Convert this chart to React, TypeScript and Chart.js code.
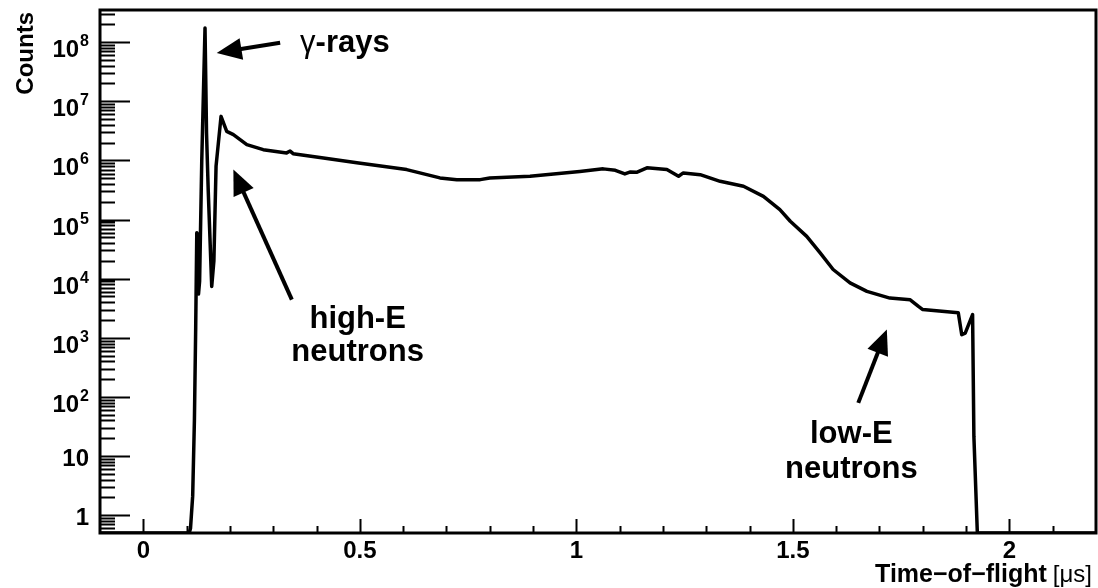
import React, { useEffect, useRef } from "react";
import { Chart, registerables } from "chart.js";

Chart.register(...registerables);

// Time-of-flight spectrum (bin centres in microseconds) and counts per bin
const tofUs = [
  -0.1, 0.106, 0.109, 0.114, 0.118, 0.121, 0.1235, 0.1255, 0.1275, 0.13, 0.135, 0.1425,
  0.146, 0.15, 0.158, 0.163, 0.168, 0.1795, 0.1926, 0.208, 0.239, 0.277, 0.331,
  0.339, 0.346, 0.416, 0.493, 0.608, 0.685, 0.724, 0.778, 0.8, 0.893, 1.008, 1.062,
  1.09, 1.112, 1.125, 1.139, 1.163, 1.209, 1.236, 1.247, 1.286, 1.332, 1.386, 1.432,
  1.47, 1.494, 1.532, 1.563, 1.593, 1.632, 1.671, 1.724, 1.771, 1.79, 1.8, 1.882,
  1.89, 1.898, 1.915, 1.918, 1.926, 2.2,
];
const counts = [
  0.5, 0.5, 0.6, 2.1, 40, 1500, 6.0e4, 5.5e4, 5.5e3, 9e3, 1.0e6, 1.74e8,
  2.9e6, 3.0e5, 7.4e3, 2.0e4, 8.0e5, 5.56e6, 3.1e6, 2.73e6, 1.85e6, 1.52e6, 1.34e6,
  1.44e6, 1.3e6, 1.1e6, 9.1e5, 7.0e5, 5.06e5, 4.73e5, 4.73e5, 5.06e5, 5.38e5, 6.5e5, 7.2e5,
  6.8e5, 5.9e5, 6.4e5, 6.3e5, 7.5e5, 7.0e5, 5.4e5, 6.15e5, 5.75e5, 4.43e5, 3.65e5, 2.47e5,
  1.47e5, 9.35e4, 5.2e4, 2.73e4, 1.43e4, 8.5e3, 6.1e3, 4.7e3, 4.4e3, 3.4e3, 3.0e3, 2.65e3,
  1.13e3, 1.2e3, 2.47e3, 21.7, 0.5, 0.5,
];

// Axis ranges and tick labels
const xRange = [-0.1, 2.2];
const yRange = [0.5, 3.5e8];
const xMajorTicks = [0, 0.5, 1, 1.5, 2];
const xTickLabels = ["0", "0.5", "1", "1.5", "2"];
const yMajorTicks = [1, 10, 1e2, 1e3, 1e4, 1e5, 1e6, 1e7, 1e8];
const yTickBase = ["1", "10", "10", "10", "10", "10", "10", "10", "10"];
const yTickExp = ["", "", "2", "3", "4", "5", "6", "7", "8"];

const BOLD = (px: number) => `bold ${px}px "Liberation Sans", Arial, Helvetica, sans-serif`;
const NORMAL = (px: number) => `${px}px "Liberation Sans", Arial, Helvetica, sans-serif`;

function drawArrow(ctx: CanvasRenderingContext2D, x1: number, y1: number, x2: number, y2: number) {
  const ang = Math.atan2(y2 - y1, x2 - x1);
  const L = 25;
  const W = 11;
  const c = Math.cos(ang);
  const s = Math.sin(ang);
  const bx = x2 - L * c;
  const by = y2 - L * s;
  ctx.beginPath();
  ctx.lineWidth = 4;
  ctx.lineCap = "butt";
  ctx.moveTo(x1, y1);
  ctx.lineTo(bx + 2 * c, by + 2 * s);
  ctx.stroke();
  ctx.beginPath();
  ctx.moveTo(x2, y2);
  ctx.lineTo(bx - W * s, by + W * c);
  ctx.lineTo(bx + W * s, by - W * c);
  ctx.closePath();
  ctx.fill();
}

const framePlugin = {
  id: "rootFrame",
  afterDraw(chart: any) {
    const ctx: CanvasRenderingContext2D = chart.ctx;
    const { left, right, top, bottom } = chart.chartArea;
    const xs = chart.scales.x;
    const ys = chart.scales.y;
    const px = (v: number) => xs.getPixelForValue(v);
    const py = (v: number) => ys.getPixelForValue(v);

    ctx.save();
    ctx.strokeStyle = "#000";
    ctx.fillStyle = "#000";

    // frame
    ctx.lineWidth = 3;
    ctx.strokeRect(left, top, right - left, bottom - top);

    // x ticks (pointing inward from the bottom edge)
    ctx.lineWidth = 2;
    ctx.beginPath();
    for (let i = Math.round(xRange[0] * 10); i <= Math.round(xRange[1] * 10); i++) {
      const v = i / 10;
      const major = i % 5 === 0;
      const x = Math.round(px(v)) + 0.5;
      if (x <= left + 1 || x >= right - 1) continue;
      ctx.moveTo(x, bottom);
      ctx.lineTo(x, bottom - (major ? 14 : 7));
    }
    ctx.stroke();

    // y ticks (logarithmic, pointing inward from the left edge)
    ctx.beginPath();
    for (let e = -1; e <= 8; e++) {
      for (let m = 1; m <= 9; m++) {
        const v = m * Math.pow(10, e);
        if (v < yRange[0] || v > yRange[1]) continue;
        const y = Math.round(py(v)) + 0.5;
        if (y >= bottom - 1 || y <= top + 1) continue;
        ctx.moveTo(left, y);
        ctx.lineTo(left + (m === 1 ? 30 : 15), y);
      }
    }
    ctx.stroke();

    // x tick labels
    ctx.font = BOLD(24);
    ctx.textAlign = "center";
    ctx.textBaseline = "alphabetic";
    xMajorTicks.forEach((v, i) => {
      ctx.fillText(xTickLabels[i], px(v), bottom + 25);
    });

    // y tick labels, with superscript exponents
    const labelRight = left - 11;
    yMajorTicks.forEach((v, i) => {
      const y = py(v);
      const exp = yTickExp[i];
      if (exp) {
        ctx.font = BOLD(16);
        ctx.textAlign = "right";
        ctx.fillText(exp, labelRight, y + 4);
        const ew = ctx.measureText(exp).width;
        ctx.font = BOLD(24);
        ctx.fillText(yTickBase[i], labelRight - ew - 1, y + 15);
      } else {
        ctx.font = BOLD(24);
        ctx.textAlign = "right";
        ctx.fillText(yTickBase[i], labelRight, y + 10);
      }
    });

    // x axis title
    ctx.textAlign = "right";
    ctx.font = NORMAL(24);
    const unit = "[\u03bcs]";
    ctx.fillText(unit, right - 4, bottom + 49);
    const uw = ctx.measureText(unit).width;
    ctx.font = BOLD(25);
    ctx.fillText("Time\u2212of\u2212flight", right - 4 - uw - 6, bottom + 49);

    // y axis title
    ctx.save();
    ctx.translate(33, top + 2);
    ctx.rotate(-Math.PI / 2);
    ctx.font = BOLD(24);
    ctx.textAlign = "right";
    ctx.fillText("Counts", 0, 0);
    ctx.restore();

    // annotations
    ctx.textAlign = "left";
    ctx.font = NORMAL(31);
    const gx = px(0.362);
    const gy = py(6.9e7);
    ctx.fillText("\u03b3", gx, gy);
    const gw = ctx.measureText("\u03b3").width;
    ctx.font = BOLD(31);
    ctx.fillText("-rays", gx + gw, gy);
    drawArrow(ctx, px(0.316), py(9.8e7), px(0.1695), py(6.56e7));

    ctx.textAlign = "center";
    ctx.fillText("high-E", px(0.495), py(1490));
    ctx.fillText("neutrons", px(0.495), py(402));
    drawArrow(ctx, px(0.343), py(4430), px(0.208), py(7e5));

    ctx.fillText("low-E", px(1.635), py(16.9));
    ctx.fillText("neutrons", px(1.635), py(4.34));
    drawArrow(ctx, px(1.651), py(79.4), px(1.717), py(1380));

    ctx.restore();
  },
};

export default function App() {
  const canvasRef = useRef<HTMLCanvasElement | null>(null);

  useEffect(() => {
    document.body.style.margin = "0";
    const canvas = canvasRef.current;
    if (!canvas) return;
    const chart = new Chart(canvas, {
      type: "line",
      data: {
        datasets: [
          {
            data: tofUs.map((t, i) => ({ x: t, y: counts[i] })),
            borderColor: "#000",
            borderWidth: 3.5,
            pointRadius: 0,
            tension: 0,
            fill: false,
            borderJoinStyle: "round",
          },
        ],
      },
      options: {
        animation: false,
        responsive: false,
        devicePixelRatio: 1,
        layout: { padding: { left: 100, right: 2, top: 10, bottom: 55 } },
        plugins: { legend: { display: false }, tooltip: { enabled: false } },
        scales: {
          x: { type: "linear", min: xRange[0], max: xRange[1], display: false },
          y: { type: "logarithmic", min: yRange[0], max: yRange[1], display: false },
        },
      },
      plugins: [framePlugin],
    });
    return () => chart.destroy();
  }, []);

  return (
    <div style={{ width: 1098, height: 588, background: "#fff" }}>
      <canvas ref={canvasRef} width={1098} height={588} style={{ display: "block" }} />
    </div>
  );
}
